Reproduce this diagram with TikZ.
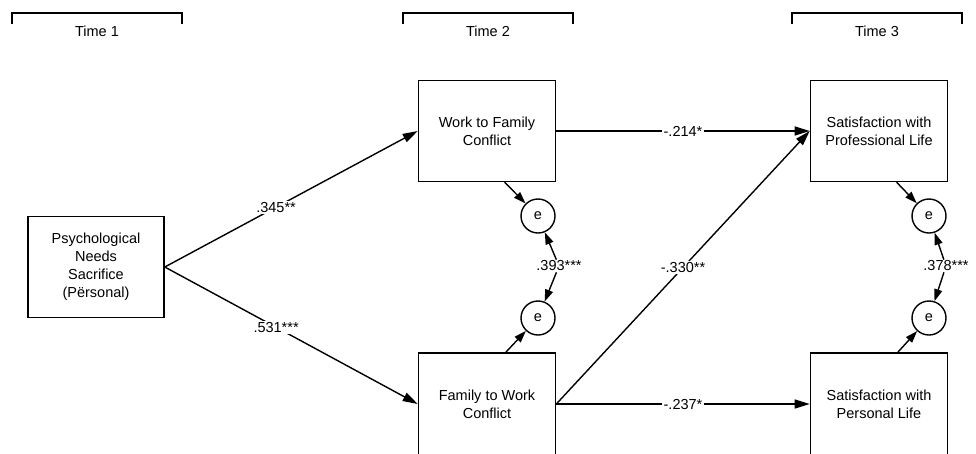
\documentclass[tikz,border=0pt]{standalone}
\usepackage{fontspec}
\setmainfont{Liberation Sans}
\usetikzlibrary{positioning,arrows.meta}

\begin{document}
\begin{tikzpicture}[
    x=1pt, y=-1pt,
    font=\fontsize{14.5}{18}\selectfont,
    box/.style={draw, line width=1.6pt, minimum width=137pt,
                minimum height=101pt, align=center, inner sep=2pt},
    err/.style={draw, circle, line width=1.4pt, minimum size=34pt, inner sep=0pt},
    arr/.style={-{Triangle[length=15pt,width=9pt]}, line width=1.4pt},
    earr/.style={-{Triangle[length=12pt,width=8pt]}, line width=1.4pt},
    lbl/.style={fill=white, inner sep=1.5pt},
    brk/.style={line width=1.6pt}
  ]
  \useasboundingbox (0,0) rectangle (976,453);

  % Time brackets
  \node (t1) at (97,31) {Time 1};
  \node (t2) at (488,31) {Time 2};
  \node (t3) at (877,31) {Time 3};
  \draw[brk] (12,24) -- (12,13) -- (182,13) -- (182,24);
  \draw[brk] (403,24) -- (403,13) -- (573,13) -- (573,24);
  \draw[brk] (792,24) -- (792,13) -- (962,13) -- (962,24);

  % Time 1
  \node[box, minimum width=136pt] (pns) at (96,267)
    {Psychological\\Needs\\Sacrifice\\(Përsonal)};

  % Time 2
  \node[box] (wfc) at (487,131) {Work to Family\\Conflict};
  \node[box, minimum height=102pt] (fwc) at (487,404) {Family to Work\\Conflict};
  \node[err] (e1) at (538,216) {e};
  \node[err] (e2) at (538,318) {e};

  % Time 3
  \node[box] (spl) at (879,131) {Satisfaction with\\Professional Life};
  \node[box, minimum height=102pt] (spp) at (879,404) {Satisfaction with\\Personal Life};
  \node[err] (e3) at (929,216) {e};
  \node[err] (e4) at (929,318) {e};

  % Paths
  \draw[arr] (pns.east) -- node[lbl, pos=0.44] {.345**} (wfc.west);
  \draw[arr] (pns.east) -- node[lbl, pos=0.44] {.531***} (fwc.west);
  \draw[arr] (wfc.east) -- node[lbl] {-.214*} (spl.west);
  \draw[arr] (fwc.east) -- node[lbl] {-.330**} (spl.west);
  \draw[arr] (fwc.east) -- node[lbl] {-.237*} (spp.west);

  % Residuals
  \draw[earr] (wfc.-71) -- (e1);
  \draw[earr] (fwc.70) -- (e2);
  \draw[earr] (spl.-71) -- (e3);
  \draw[earr] (spp.70) -- (e4);

  % Residual covariances
  \node[inner sep=1pt] (c1) at (559,266) {.393***};
  \draw[earr] (c1) -- (e1);
  \draw[earr] (c1) -- (e2);
  \node[inner sep=1pt] (c2) at (946,266) {.378***};
  \draw[earr] (c2) -- (e3);
  \draw[earr] (c2) -- (e4);
\end{tikzpicture}
\end{document}
